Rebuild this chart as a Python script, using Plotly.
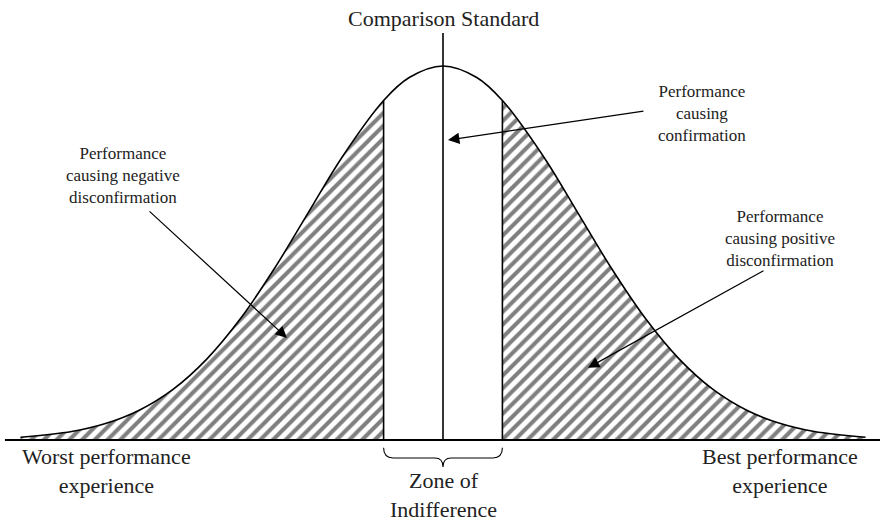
import plotly.graph_objects as go

# Bell curve (x in performance units, y relative height)
curve_x = [-3.13, -2.75, -2.5, -2.25, -2.0, -1.75, -1.5, -1.25, -1.0, -0.75, -0.44,
           -0.25, 0.0, 0.25, 0.44, 0.75, 1.0, 1.25, 1.5, 1.75, 2.0, 2.25, 2.5, 2.75, 3.13]
curve_y = [0.0075, 0.0228, 0.0439, 0.0796, 0.1353, 0.2163, 0.3247, 0.4578, 0.6065, 0.7548, 0.9077,
           0.9692, 1.0, 0.9692, 0.9077, 0.7548, 0.6065, 0.4578, 0.3247, 0.2163, 0.1353, 0.0796, 0.0439, 0.0228, 0.0075]

zone_low = -0.44
zone_high = 0.44
standard = 0.0

FONT = "Times New Roman, Times, Tinos, Liberation Serif, FreeSerif, Noto Serif, serif"
TXT = "#222222"

left_x = [x for x in curve_x if x <= zone_low]
left_y = [y for x, y in zip(curve_x, curve_y) if x <= zone_low]
right_x = [x for x in curve_x if x >= zone_high]
right_y = [y for x, y in zip(curve_x, curve_y) if x >= zone_high]

pattern = dict(shape="/", size=9, solidity=0.45, fgcolor="black", bgcolor="white")

fig = go.Figure()
for xs, ys in [(left_x, left_y), (right_x, right_y)]:
    fig.add_trace(go.Scatter(x=xs, y=ys, mode="lines", fill="tozeroy",
                             line=dict(width=0, shape="spline", color="black"),
                             fillcolor="white", fillpattern=pattern, hoverinfo="skip"))

fig.add_trace(go.Scatter(x=curve_x, y=curve_y, mode="lines",
                         line=dict(color="black", width=1.6, shape="spline"), hoverinfo="skip"))

zone_h = curve_y[curve_x.index(zone_low)]
shapes = [
    dict(type="line", xref="x", yref="y", x0=-3.245, x1=3.24, y0=0, y1=0,
         line=dict(color="black", width=2)),
    dict(type="line", xref="x", yref="y", x0=standard, x1=standard, y0=0, y1=1.088,
         line=dict(color="black", width=1.6)),
    dict(type="line", xref="x", yref="y", x0=zone_low, x1=zone_low, y0=0, y1=zone_h,
         line=dict(color="black", width=1.6)),
    dict(type="line", xref="x", yref="y", x0=zone_high, x1=zone_high, y0=0, y1=zone_h,
         line=dict(color="black", width=1.6)),
    dict(type="path", xref="x", yref="y",
         path=(f"M {zone_low},-0.021 Q {zone_low},-0.048 {zone_low+0.07},-0.048 "
               f"L -0.06,-0.048 Q 0,-0.048 0,-0.072 Q 0,-0.048 0.06,-0.048 "
               f"L {zone_high-0.07},-0.048 Q {zone_high},-0.048 {zone_high},-0.021"),
         line=dict(color="black", width=1.1)),
]

annotations = []
texts = [
    ("Comparison Standard", 0.0, 1.128, 22),
    ("Performance<br>causing<br>confirmation", 1.919, 0.874, 17),
    ("Performance<br>causing negative<br>disconfirmation", -2.370, 0.706, 17),
    ("Performance<br>causing positive<br>disconfirmation", 2.496, 0.540, 17),
    ("Worst performance<br>experience", -2.489, -0.084, 22),
    ("Best performance<br>experience", 2.496, -0.084, 22),
    ("Zone of<br>Indifference", 0.0, -0.147, 22),
]
for t, x, y, s in texts:
    annotations.append(dict(text=t, x=x, y=y, xref="x", yref="y", showarrow=False,
                            xanchor="center", yanchor="middle", align="center",
                            font=dict(family=FONT, size=s, color=TXT)))

arrows = [
    ((-2.185, 0.615), (-1.156, 0.273)),
    ((1.496, 0.880), (0.037, 0.802)),
    ((2.385, 0.4545), (1.074, 0.193)),
]
for (tx, ty), (hx, hy) in arrows:
    annotations.append(dict(text="", x=hx, y=hy, ax=tx, ay=ty, xref="x", yref="y",
                            axref="x", ayref="y", showarrow=True, arrowhead=2,
                            arrowsize=1.9, arrowwidth=1.2, arrowcolor="black"))

fig.update_layout(
    width=880, height=522,
    margin=dict(l=0, r=0, t=0, b=0),
    paper_bgcolor="white", plot_bgcolor="white",
    showlegend=False,
    font=dict(family=FONT),
    xaxis=dict(range=[-3.2815, 3.2370], visible=False, fixedrange=True),
    yaxis=dict(range=[-0.2193, 1.1765], visible=False, fixedrange=True),
    shapes=shapes,
    annotations=annotations,
)

fig.write_html("out.html", config={"displayModeBar": False},
               post_script="document.body.style.margin='0';document.body.style.overflow='hidden';")
